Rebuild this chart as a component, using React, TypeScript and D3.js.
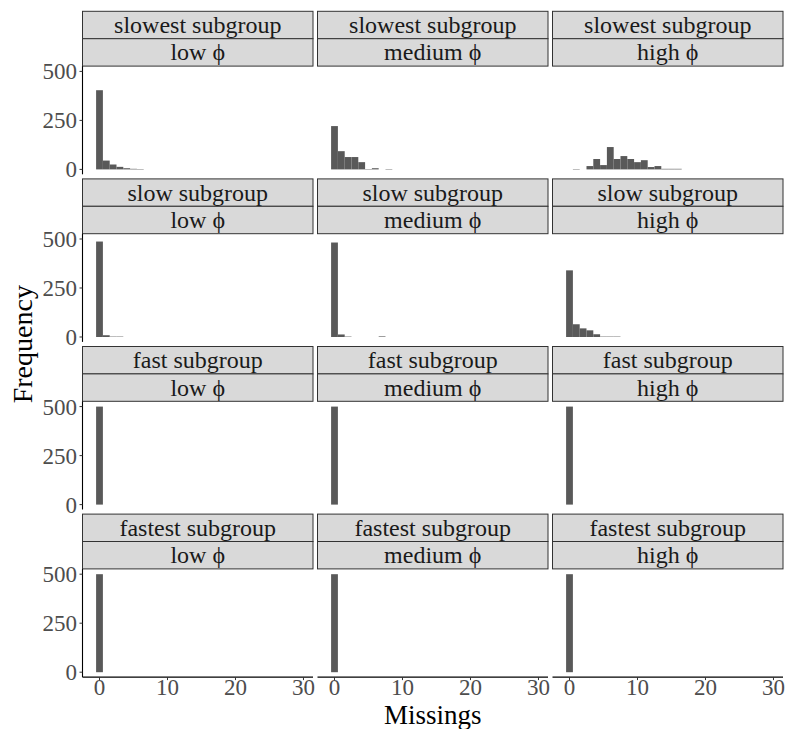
import * as d3 from "d3";

const subgroups = ["slowest subgroup", "slow subgroup", "fast subgroup", "fastest subgroup"];
const phiLevels = ["low ϕ", "medium ϕ", "high ϕ"];

// frequency per number of missings (bin 0, 1, 2, ...), one row per subgroup, one array per phi level
const slowestLow = [404, 45, 25, 13, 6, 3, 2];
const slowestMedium = [221, 93, 63, 63, 37, 2, 6, 0, 2];
const slowestHigh = [0, 2, 0, 17, 53, 22, 114, 53, 68, 53, 37, 47, 12, 17, 3, 3, 3];
const slowLow = [487, 9, 2, 2];
const slowMedium = [482, 13, 2, 0, 0, 0, 0, 3];
const slowHigh = [340, 65, 44, 34, 14, 2, 2, 2];
const fastLow = [500];
const fastMedium = [500];
const fastHigh = [500];
const fastestLow = [500];
const fastestMedium = [500];
const fastestHigh = [500];

const panelCounts = [
  [slowestLow, slowestMedium, slowestHigh],
  [slowLow, slowMedium, slowHigh],
  [fastLow, fastMedium, fastHigh],
  [fastestLow, fastestMedium, fastestHigh],
];

const xTicks = [0, 10, 20, 30];
const yTicks = [0, 250, 500];

const width = 789;
const height = 729;
const left = 82.5;
const top = 11.3;
const panelW = 230.5;
const gapX = 4.5;
const stripH = 27.4;
const panelH = 108.2;
const gapY = 4.6;

const font = "'Liberation Serif', 'Times New Roman', serif";

export default function App() {
  const x0 = d3.scaleLinear().domain([-2.5, 31.4]).range([0, panelW]);
  const y0 = d3.scaleLinear().domain([-25, 527]).range([panelH, 0]);
  const rowStep = 2 * stripH + panelH + gapY;
  const lastRowBottom = top + 3 * rowStep + 2 * stripH + panelH;

  return (
    <svg width={width} height={height} style={{ position: "absolute", left: 0, top: 0 }} fontFamily={font}>
      <rect width={width} height={height} fill="#fff" />
      {subgroups.map((sg, r) => {
        const rowTop = top + r * rowStep;
        const pTop = rowTop + 2 * stripH;
        return (
          <g key={sg}>
            {phiLevels.map((phi, c) => {
              const pLeft = left + c * (panelW + gapX);
              const counts = panelCounts[r][c];
              return (
                <g key={phi} transform={`translate(${pLeft},0)`}>
                  <rect x={0} y={rowTop} width={panelW} height={stripH} fill="#D9D9D9" stroke="#333" strokeWidth={1} />
                  <text x={panelW / 2} y={rowTop + stripH / 2 + 8} textAnchor="middle" fontSize={24} fill="#1A1A1A">{sg}</text>
                  <rect x={0} y={rowTop + stripH} width={panelW} height={stripH} fill="#D9D9D9" stroke="#333" strokeWidth={1} />
                  <text x={panelW / 2} y={rowTop + 1.5 * stripH + 8} textAnchor="middle" fontSize={24} fill="#1A1A1A">{phi}</text>
                  <g transform={`translate(0,${pTop})`}>
                    {counts.map((v, i) =>
                      v > 0 ? (
                        <rect key={i} x={x0(i - 0.5)} y={y0(v)} width={x0(i + 0.5) - x0(i - 0.5)} height={y0(0) - y0(v)} fill="#595959" />
                      ) : null
                    )}
                    {c === 0 && (
                      <g>
                        <line x1={0} x2={0} y1={0} y2={panelH} stroke="#000" strokeWidth={1.1} />
                        {yTicks.map((t) => (
                          <g key={t} transform={`translate(0,${y0(t)})`}>
                            <line x1={-3} x2={0} stroke="#333" strokeWidth={1} />
                            <text x={-5.5} dy="0.35em" textAnchor="end" fontSize={23} fill="#4D4D4D">{t}</text>
                          </g>
                        ))}
                      </g>
                    )}
                    {r === subgroups.length - 1 && (
                      <g transform={`translate(0,${panelH})`}>
                        <line x1={0} x2={panelW} stroke="#000" strokeWidth={1.1} />
                        {xTicks.map((t) => (
                          <g key={t} transform={`translate(${x0(t)},0)`}>
                            <line y1={0} y2={3} stroke="#333" strokeWidth={1} />
                            <text y={17.5} textAnchor="middle" fontSize={23} fill="#4D4D4D">{t}</text>
                          </g>
                        ))}
                      </g>
                    )}
                  </g>
                </g>
              );
            })}
          </g>
        );
      })}
      <text x={left + (3 * panelW + 2 * gapX) / 2} y={lastRowBottom + 46.5} textAnchor="middle" fontSize={27} fill="#000">Missings</text>
      <text transform={`translate(32,${(top + lastRowBottom) / 2}) rotate(-90)`} textAnchor="middle" fontSize={28} fill="#000">Frequency</text>
    </svg>
  );
}
